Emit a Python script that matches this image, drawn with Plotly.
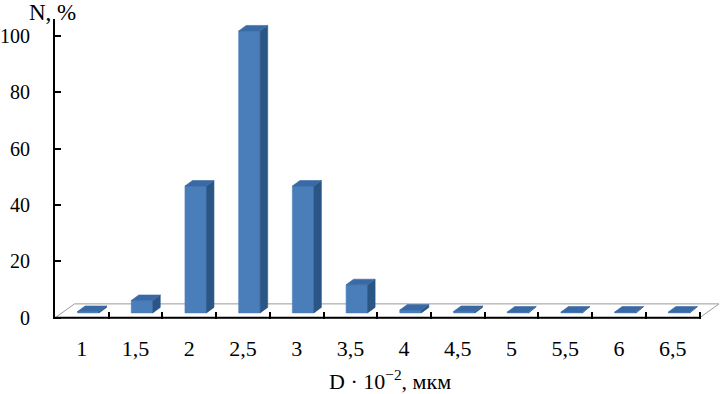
import plotly.graph_objects as go

# ---- data ----
categories = ["1", "1,5", "2", "2,5", "3", "3,5", "4", "4,5", "5", "5,5", "6", "6,5"]
values = [0.5, 4.4, 45, 100, 45, 10, 1, 0.5, 0.3, 0.3, 0.3, 0.3]
y_ticks = [0, 20, 40, 60, 80, 100]

# ---- style / 3D geometry (in axis units) ----
BAR_L, BAR_R = 0.42, 0.82      # front face position inside a category
BASE = 1.77                    # bar front bottom above the floor front edge
DX, DY = 0.14, 1.95            # bar depth offset
FLOOR_DX, FLOOR_DY = 0.363, 4.96
C_FRONT, C_SIDE, C_TOP = "#4A7EBB", "#2A5686", "#3A6AA5"
N = len(categories)

front_x, front_y, side_x, side_y, top_x, top_y = [], [], [], [], [], []
for i, v in enumerate(values):
    L, R = i + BAR_L, i + BAR_R
    b, t = BASE, BASE + v
    front_x += [L, R, R, L, L, None]
    front_y += [b, b, t, t, b, None]
    side_x += [R, R + DX, R + DX, R, R, None]
    side_y += [b, b + DY, t + DY, t, b, None]
    top_x += [L, R, R + DX, L + DX, L, None]
    top_y += [t, t, t + DY, t + DY, t, None]

fig = go.Figure()
# floor
fig.add_trace(go.Scatter(
    x=[0, N, N + FLOOR_DX, FLOOR_DX, 0],
    y=[0, 0, FLOOR_DY, FLOOR_DY, 0],
    mode="lines", fill="toself", fillcolor="white",
    line=dict(color="#9A9A9A", width=1), hoverinfo="skip", showlegend=False))
# x axis line
fig.add_trace(go.Scatter(x=[0, N], y=[0, 0], mode="lines",
                         line=dict(color="black", width=2),
                         hoverinfo="skip", showlegend=False))
for xs, ys, c in [(front_x, front_y, C_FRONT), (side_x, side_y, C_SIDE), (top_x, top_y, C_TOP)]:
    fig.add_trace(go.Scatter(x=xs, y=ys, mode="lines", fill="toself",
                             fillcolor=c, line=dict(color=c, width=0.6),
                             hoverinfo="skip", showlegend=False))

FONT = dict(family="Liberation Serif, Times New Roman, serif", size=22, color="black")

fig.update_layout(
    width=725, height=394,
    margin=dict(l=55, r=6, t=19, b=75),
    paper_bgcolor="white", plot_bgcolor="white",
    font=FONT, showlegend=False,
    xaxis=dict(range=[0, N + FLOOR_DX], showgrid=False, zeroline=False, showline=False,
               automargin=False,
               tickmode="array", tickvals=[i + 0.5 for i in range(N)], ticktext=categories,
               ticks="", ticklabelstandoff=14,
               minor=dict(tickmode="array", tickvals=list(range(1, N + 1)),
                          ticks="inside", ticklen=7, tickwidth=2, tickcolor="black")),
    yaxis=dict(range=[-0.4, 106], showgrid=False, zeroline=False, automargin=False,
               showline=True, linecolor="black", linewidth=2,
               tickmode="array", tickvals=y_ticks,
               tickfont=dict(size=20),
               ticks="inside", ticklen=6, tickwidth=2, tickcolor="black",
               ticklabelstandoff=19),
    annotations=[
        dict(text="N, %", xref="paper", yref="paper", x=-0.0045, y=1.023,
             xanchor="center", yanchor="middle", showarrow=False,
             font=dict(family=FONT["family"], size=23, color="black")),
        dict(text="D · 10<sup>−2</sup>, мкм", xref="paper", yref="paper", x=0.5045, y=-0.203,
             xanchor="center", yanchor="middle", showarrow=False, font=FONT),
    ],
)

fig.write_html("out.html", config={"displayModeBar": False},
               post_script="document.body.style.margin='0px';document.body.style.overflow='hidden';")
